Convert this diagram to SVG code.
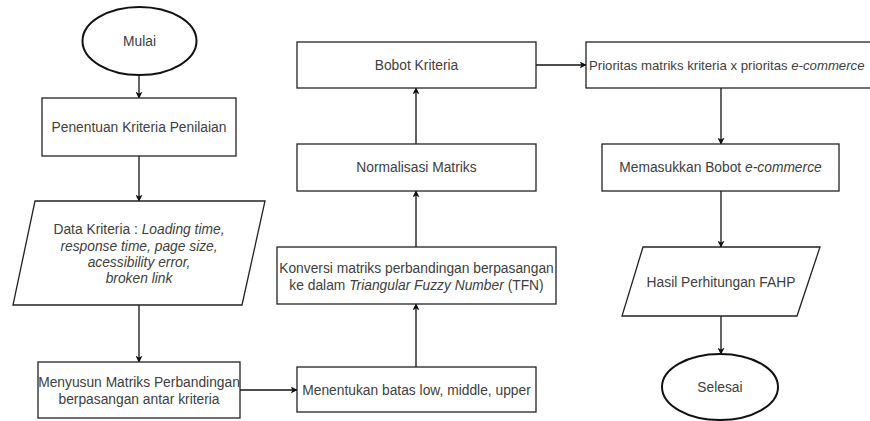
<svg xmlns="http://www.w3.org/2000/svg" width="870" height="421" viewBox="0 0 870 421">
<style>
.s{fill:#fff;stroke:#222;stroke-width:1.3}
.e{fill:#fff;stroke:#111;stroke-width:2}
.t{font-family:"Liberation Sans",Arial,sans-serif;font-size:13.8px;fill:#404040;text-anchor:middle}
.i{font-style:italic}
.c{stroke:#111;stroke-width:1.3;fill:none;marker-end:url(#a)}
</style>
<defs>
<marker id="a" viewBox="0 0 10 10" refX="9" refY="5" markerWidth="7" markerHeight="7" markerUnits="userSpaceOnUse" orient="auto"><path d="M0,0 L10,5 L0,10 L2.5,5 z" fill="#111"/></marker>
</defs>
<rect width="870" height="421" fill="#fff"/>
<g id="connectors">
<line class="c" x1="139" y1="75" x2="139" y2="98"/>
<line class="c" x1="139" y1="156" x2="139" y2="201"/>
<line class="c" x1="139" y1="305" x2="139" y2="362"/>
<line class="c" x1="240" y1="390" x2="297" y2="390"/>
<line class="c" x1="416" y1="367" x2="416" y2="304"/>
<line class="c" x1="416" y1="247" x2="416" y2="191"/>
<line class="c" x1="416" y1="144" x2="416" y2="88"/>
<line class="c" x1="536" y1="65" x2="586" y2="65"/>
<line class="c" x1="721" y1="88" x2="721" y2="144"/>
<line class="c" x1="721" y1="191" x2="721" y2="247"/>
<line class="c" x1="721" y1="316" x2="721" y2="354"/>
</g>
<g id="mulai"><ellipse class="e" cx="139.5" cy="41" rx="57" ry="34"/><text class="t" x="139.5" y="46">Mulai</text></g>
<g id="penentuan"><rect class="s" x="42" y="98" width="194" height="58"/><text class="t" x="139" y="132">Penentuan Kriteria Penilaian</text></g>
<g id="data"><polygon class="s" points="35,201 265,201 242,305 13,305"/>
<text class="t" x="139" y="234">Data Kriteria : <tspan class="i">Loading time,</tspan></text>
<text class="t i" x="139" y="251">response time, page size,</text>
<text class="t i" x="139" y="267">acessibility error,</text>
<text class="t i" x="139" y="283">broken link</text></g>
<g id="menyusun"><rect class="s" x="38" y="362" width="202" height="56"/>
<text class="t" x="139" y="387">Menyusun Matriks Perbandingan</text>
<text class="t" x="139" y="404">berpasangan antar kriteria</text></g>
<g id="menentukan"><rect class="s" x="297" y="367" width="239" height="45"/><text class="t" x="416.5" y="395">Menentukan batas low, middle, upper</text></g>
<g id="konversi"><rect class="s" x="277" y="247" width="279" height="57"/>
<text class="t" x="416.5" y="273">Konversi matriks perbandingan berpasangan</text>
<text class="t" x="416.5" y="290">ke dalam <tspan class="i">Triangular Fuzzy Number</tspan> (TFN)</text></g>
<g id="normalisasi"><rect class="s" x="297" y="144" width="239" height="47"/><text class="t" x="416.5" y="172">Normalisasi Matriks</text></g>
<g id="bobot"><rect class="s" x="297" y="42" width="239" height="46"/><text class="t" x="416.5" y="70">Bobot Kriteria</text></g>
<g id="prioritas"><rect class="s" x="586" y="42" width="300" height="46"/><text class="t" x="589" y="70" style="text-anchor:start;font-size:13.2px">Prioritas matriks kriteria x prioritas <tspan class="i">e-commerce</tspan></text></g>
<g id="memasukkan"><rect class="s" x="602" y="144" width="237" height="47"/><text class="t" x="720.5" y="172">Memasukkan Bobot <tspan class="i">e-commerce</tspan></text></g>
<g id="hasil"><polygon class="s" points="643,247 820,247 797,316 622,316"/><text class="t" x="721" y="287">Hasil Perhitungan FAHP</text></g>
<g id="selesai"><ellipse class="e" cx="720" cy="387" rx="58" ry="33"/><text class="t" x="720" y="392">Selesai</text></g>
</svg>
